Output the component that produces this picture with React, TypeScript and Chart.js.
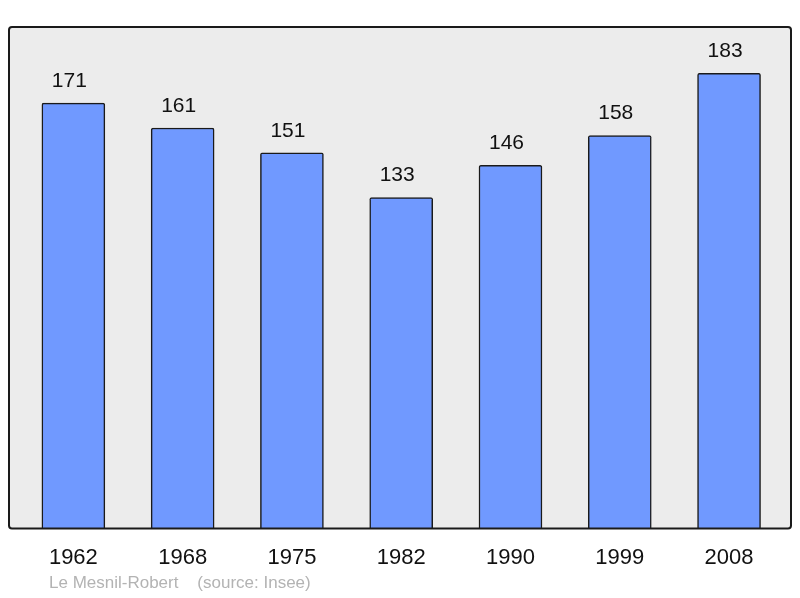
import React, { useEffect, useRef } from "react";
import { Chart, registerables } from "chart.js";

Chart.register(...registerables);

const years = ["1962", "1968", "1975", "1982", "1990", "1999", "2008"];
const population = [171, 161, 151, 133, 146, 158, 183];
const footerText = "Le Mesnil-Robert    (source: Insee)";

const FONT = "'Liberation Sans', Arial, sans-serif";

function framePath(ctx: CanvasRenderingContext2D, left: number, top: number, right: number, bottom: number, r: number) {
  ctx.beginPath();
  ctx.moveTo(left + r, top);
  ctx.lineTo(right - r, top);
  ctx.quadraticCurveTo(right, top, right, top + r);
  ctx.lineTo(right, bottom - r);
  ctx.quadraticCurveTo(right, bottom, right - r, bottom);
  ctx.lineTo(left + r, bottom);
  ctx.quadraticCurveTo(left, bottom, left, bottom - r);
  ctx.lineTo(left, top + r);
  ctx.quadraticCurveTo(left, top, left + r, top);
  ctx.closePath();
}

export default function App() {
  const ref = useRef<HTMLCanvasElement | null>(null);

  useEffect(() => {
    const canvas = ref.current;
    if (!canvas) return;

    const framePlugin = {
      id: "frame",
      beforeDatasetsDraw(chart: any) {
        const { ctx, chartArea } = chart;
        ctx.save();
        framePath(ctx, chartArea.left, chartArea.top, chartArea.right, chartArea.bottom, 3);
        ctx.fillStyle = "#ececec";
        ctx.fill();
        ctx.restore();
      },
      afterDatasetsDraw(chart: any) {
        const { ctx, chartArea } = chart;
        ctx.save();
        framePath(ctx, chartArea.left, chartArea.top, chartArea.right, chartArea.bottom, 3);
        ctx.lineWidth = 2;
        ctx.strokeStyle = "#1a1a1a";
        ctx.stroke();

        // value labels
        const meta = chart.getDatasetMeta(0);
        ctx.fillStyle = "#111111";
        ctx.font = `21px ${FONT}`;
        ctx.textAlign = "center";
        ctx.textBaseline = "middle";
        meta.data.forEach((bar: any, i: number) => {
          ctx.fillText(String(population[i]), bar.x - 4, bar.y - 22);
        });

        // footer
        ctx.fillStyle = "#b3b3b3";
        ctx.font = `17px ${FONT}`;
        ctx.textAlign = "left";
        ctx.textBaseline = "alphabetic";
        ctx.fillText(footerText, 49, 588);
        ctx.restore();
      },
    };

    const chart = new Chart(canvas, {
      type: "bar",
      data: {
        datasets: [
          {
            data: population.map((v, i) => ({ x: i, y: v })),
            backgroundColor: "#7099ff",
            borderColor: "#1a1a1a",
            borderWidth: 1.5,
            borderRadius: 2,
            borderSkipped: "start",
            barThickness: 63,
          },
        ],
      },
      options: {
        responsive: false,
        animation: false,
        layout: { padding: { left: 9, right: 9, top: 27, bottom: 11 } },
        plugins: {
          legend: { display: false },
          tooltip: { enabled: false },
        },
        scales: {
          x: {
            type: "linear",
            min: -0.589,
            max: 6.567,
            offset: false,
            grid: { display: false, drawTicks: false },
            border: { display: false },
            afterBuildTicks(scale: any) {
              scale.ticks = years.map((_, i) => ({ value: i }));
            },
            ticks: {
              padding: 16,
              autoSkip: false,
              maxRotation: 0,
              color: "#111111",
              font: { size: 22, family: FONT },
              callback: (v: any) => years[Number(v)] ?? "",
            },
          },
          y: {
            display: false,
            min: 0,
            max: 201.6,
          },
        },
      },
      plugins: [framePlugin],
    });

    return () => chart.destroy();
  }, []);

  return (
    <div style={{ position: "absolute", left: 0, top: 0, width: 800, height: 598 }}>
      <canvas ref={ref} width={800} height={598} style={{ display: "block" }} />
    </div>
  );
}
